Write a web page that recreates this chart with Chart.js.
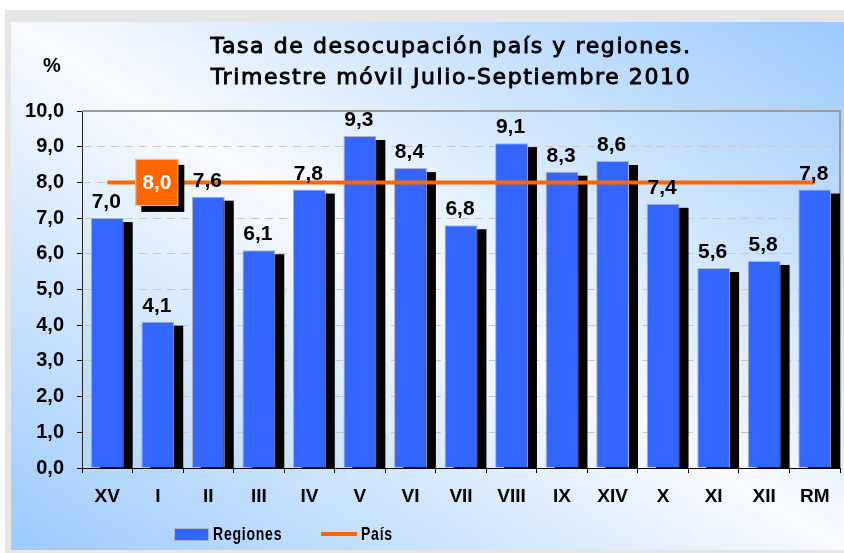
<!DOCTYPE html>
<html lang="es">
<head>
<meta charset="UTF-8">
<title>Tasa de desocupación país y regiones</title>
<script src="https://cdn.jsdelivr.net/npm/chart.js"></script>
<style>
  body { margin: 0; background: #fff; }
  .frame { position: absolute; left: 5px; top: 10px; width: 839px; height: 543px; background: #e6e6e6; }
  .panel { position: absolute; left: 11px; top: 22px; width: 833px; height: 528px;
           background: linear-gradient(to top right, #9ccafc 0%, #f8fbff 50%, #9ccafc 100%); }
  #chart { position: absolute; left: 0; top: 0; }
  .title { position: absolute; left: 251px; width: 400px; top: 30px; text-align: center; white-space: nowrap;
           font: 22px 'DejaVu Sans', sans-serif; line-height: 31px; letter-spacing: 1.6px; color: #000;
           -webkit-text-stroke: 0.9px #000; }
  .title div { margin-left: -100px; margin-right: -100px; }
  .lg { position: absolute; font: bold 19px 'Liberation Sans', Arial, sans-serif; letter-spacing: 1px;
        transform: scaleX(0.74); transform-origin: left center; white-space: nowrap; line-height: 20px; }
  .box { position: absolute; left: 174px; top: 528px; width: 35px; height: 13px; background: #3366ff;
         border: 1px solid #a9b3c9; box-sizing: border-box; }
  .line { position: absolute; left: 321px; top: 532px; width: 36px; height: 4px; background: #ff6600; }
</style>
</head>
<body>
<div class="frame"></div>
<div class="panel"></div>
<canvas id="chart" width="844" height="553"></canvas>
<div class="title" id="titulo"></div>
<span class="box"></span><span class="lg" style="left:213px; top:524px;">Regiones</span>
<span class="line"></span><span class="lg" style="left:361px; top:524px;">País</span>

<script>
const regiones = ['XV', 'I', 'II', 'III', 'IV', 'V', 'VI', 'VII', 'VIII', 'IX', 'XIV', 'X', 'XI', 'XII', 'RM'];
const tasaRegiones = [7.0, 4.1, 7.6, 6.1, 7.8, 9.3, 8.4, 6.8, 9.1, 8.3, 8.6, 7.4, 5.6, 5.8, 7.8];
const tasaPais = [8.0, 8.0, 8.0, 8.0, 8.0, 8.0, 8.0, 8.0, 8.0, 8.0, 8.0, 8.0, 8.0, 8.0, 8.0];
const tituloLineas = ['Tasa de desocupación país y regiones.', 'Trimestre móvil Julio-Septiembre 2010'];
const paisLabelIndex = 1;

document.getElementById('titulo').innerHTML = tituloLineas.map(t => '<div>' + t + '</div>').join('');

const boldFont = "'Liberation Sans', Arial, sans-serif";
const fmt = v => v.toFixed(1).replace('.', ',');

// black shadow behind every bar + solid frame on top/right of the plot
const barShadows = {
  id: 'barShadows',
  beforeDatasetsDraw(chart) {
    const ctx = chart.ctx, area = chart.chartArea;
    ctx.save();
    ctx.strokeStyle = '#9a9a9a';
    ctx.lineWidth = 2;
    ctx.beginPath();
    ctx.moveTo(area.left, area.top);
    ctx.lineTo(area.right, area.top);
    ctx.lineTo(area.right, area.bottom);
    ctx.stroke();
    ctx.beginPath();
    ctx.rect(area.left, area.top, area.right - area.left, area.bottom - area.top);
    ctx.clip();
    ctx.fillStyle = '#000';
    chart.getDatasetMeta(0).data.forEach(bar => {
      const p = bar.getProps(['x', 'y', 'base', 'width'], true);
      ctx.fillRect(p.x - p.width / 2 + 9, p.y + 4, p.width, p.base - p.y);
    });
    ctx.restore();
  }
};

// value labels, the "8,0" box and the "%" sign
const labels = {
  id: 'labels',
  afterDatasetsDraw(chart) {
    const ctx = chart.ctx;
    ctx.save();
    ctx.fillStyle = '#000';
    ctx.font = 'bold 21px ' + boldFont;
    ctx.textAlign = 'center';
    ctx.textBaseline = 'alphabetic';
    chart.getDatasetMeta(0).data.forEach((bar, i) => {
      ctx.fillText(fmt(tasaRegiones[i]), bar.x - 1, bar.y - 10);
    });

    const pt = chart.getDatasetMeta(1).data[paisLabelIndex];
    const w = 43, h = 47;
    const bx = pt.x - w / 2 - 1, by = pt.y - h / 2;
    ctx.fillStyle = '#000';
    ctx.fillRect(bx + 6, by + 6, w, h);
    ctx.fillStyle = '#ff6600';
    ctx.fillRect(bx, by, w, h);
    ctx.strokeStyle = '#d0d0d0';
    ctx.lineWidth = 1;
    ctx.strokeRect(bx + 0.5, by + 0.5, w - 1, h - 1);
    ctx.fillStyle = '#fff';
    ctx.textBaseline = 'middle';
    ctx.fillText(fmt(tasaPais[paisLabelIndex]), bx + w / 2, by + h / 2 + 1);

    ctx.fillStyle = '#000';
    ctx.font = 'bold 20px ' + boldFont;
    ctx.fillText('%', 52, 66);
    ctx.restore();
  }
};

new Chart(document.getElementById('chart'), {
  type: 'bar',
  data: {
    labels: regiones,
    datasets: [{
      label: 'Regiones',
      data: tasaRegiones,
      backgroundColor: '#3366ff',
      borderColor: '#a9b3c9',
      borderWidth: 1,
      barPercentage: 0.65,
      categoryPercentage: 1,
      order: 1
    }, {
      type: 'line',
      label: 'País',
      data: tasaPais,
      borderColor: '#ff6600',
      borderWidth: 4,
      pointRadius: 0,
      fill: false,
      order: 0
    }]
  },
  options: {
    responsive: false,
    animation: false,
    layout: { padding: { left: 0, right: 4, top: 111, bottom: 38 } },
    plugins: {
      legend: { display: false },
      tooltip: { enabled: false },
      title: { display: false }
    },
    scales: {
      x: {
        afterFit: s => { s.height = 47; },
        grid: { drawOnChartArea: false, tickLength: 5, color: '#000' },
        border: { color: '#000', width: 1 },
        ticks: { color: '#000', padding: 12, font: { family: boldFont, size: 19, weight: 'bold' } }
      },
      y: {
        min: 0,
        max: 10,
        afterFit: s => { s.width = 82; },
        grid: { color: '#c8c8c8', tickLength: 5, tickColor: '#000' },
        border: { color: '#222', width: 1, dash: [8, 6] },
        ticks: {
          stepSize: 1,
          color: '#000',
          padding: 13,
          font: { family: boldFont, size: 20, weight: 'bold' },
          callback: v => fmt(v)
        }
      }
    }
  },
  plugins: [barShadows, labels]
});
</script>
</body>
</html>
